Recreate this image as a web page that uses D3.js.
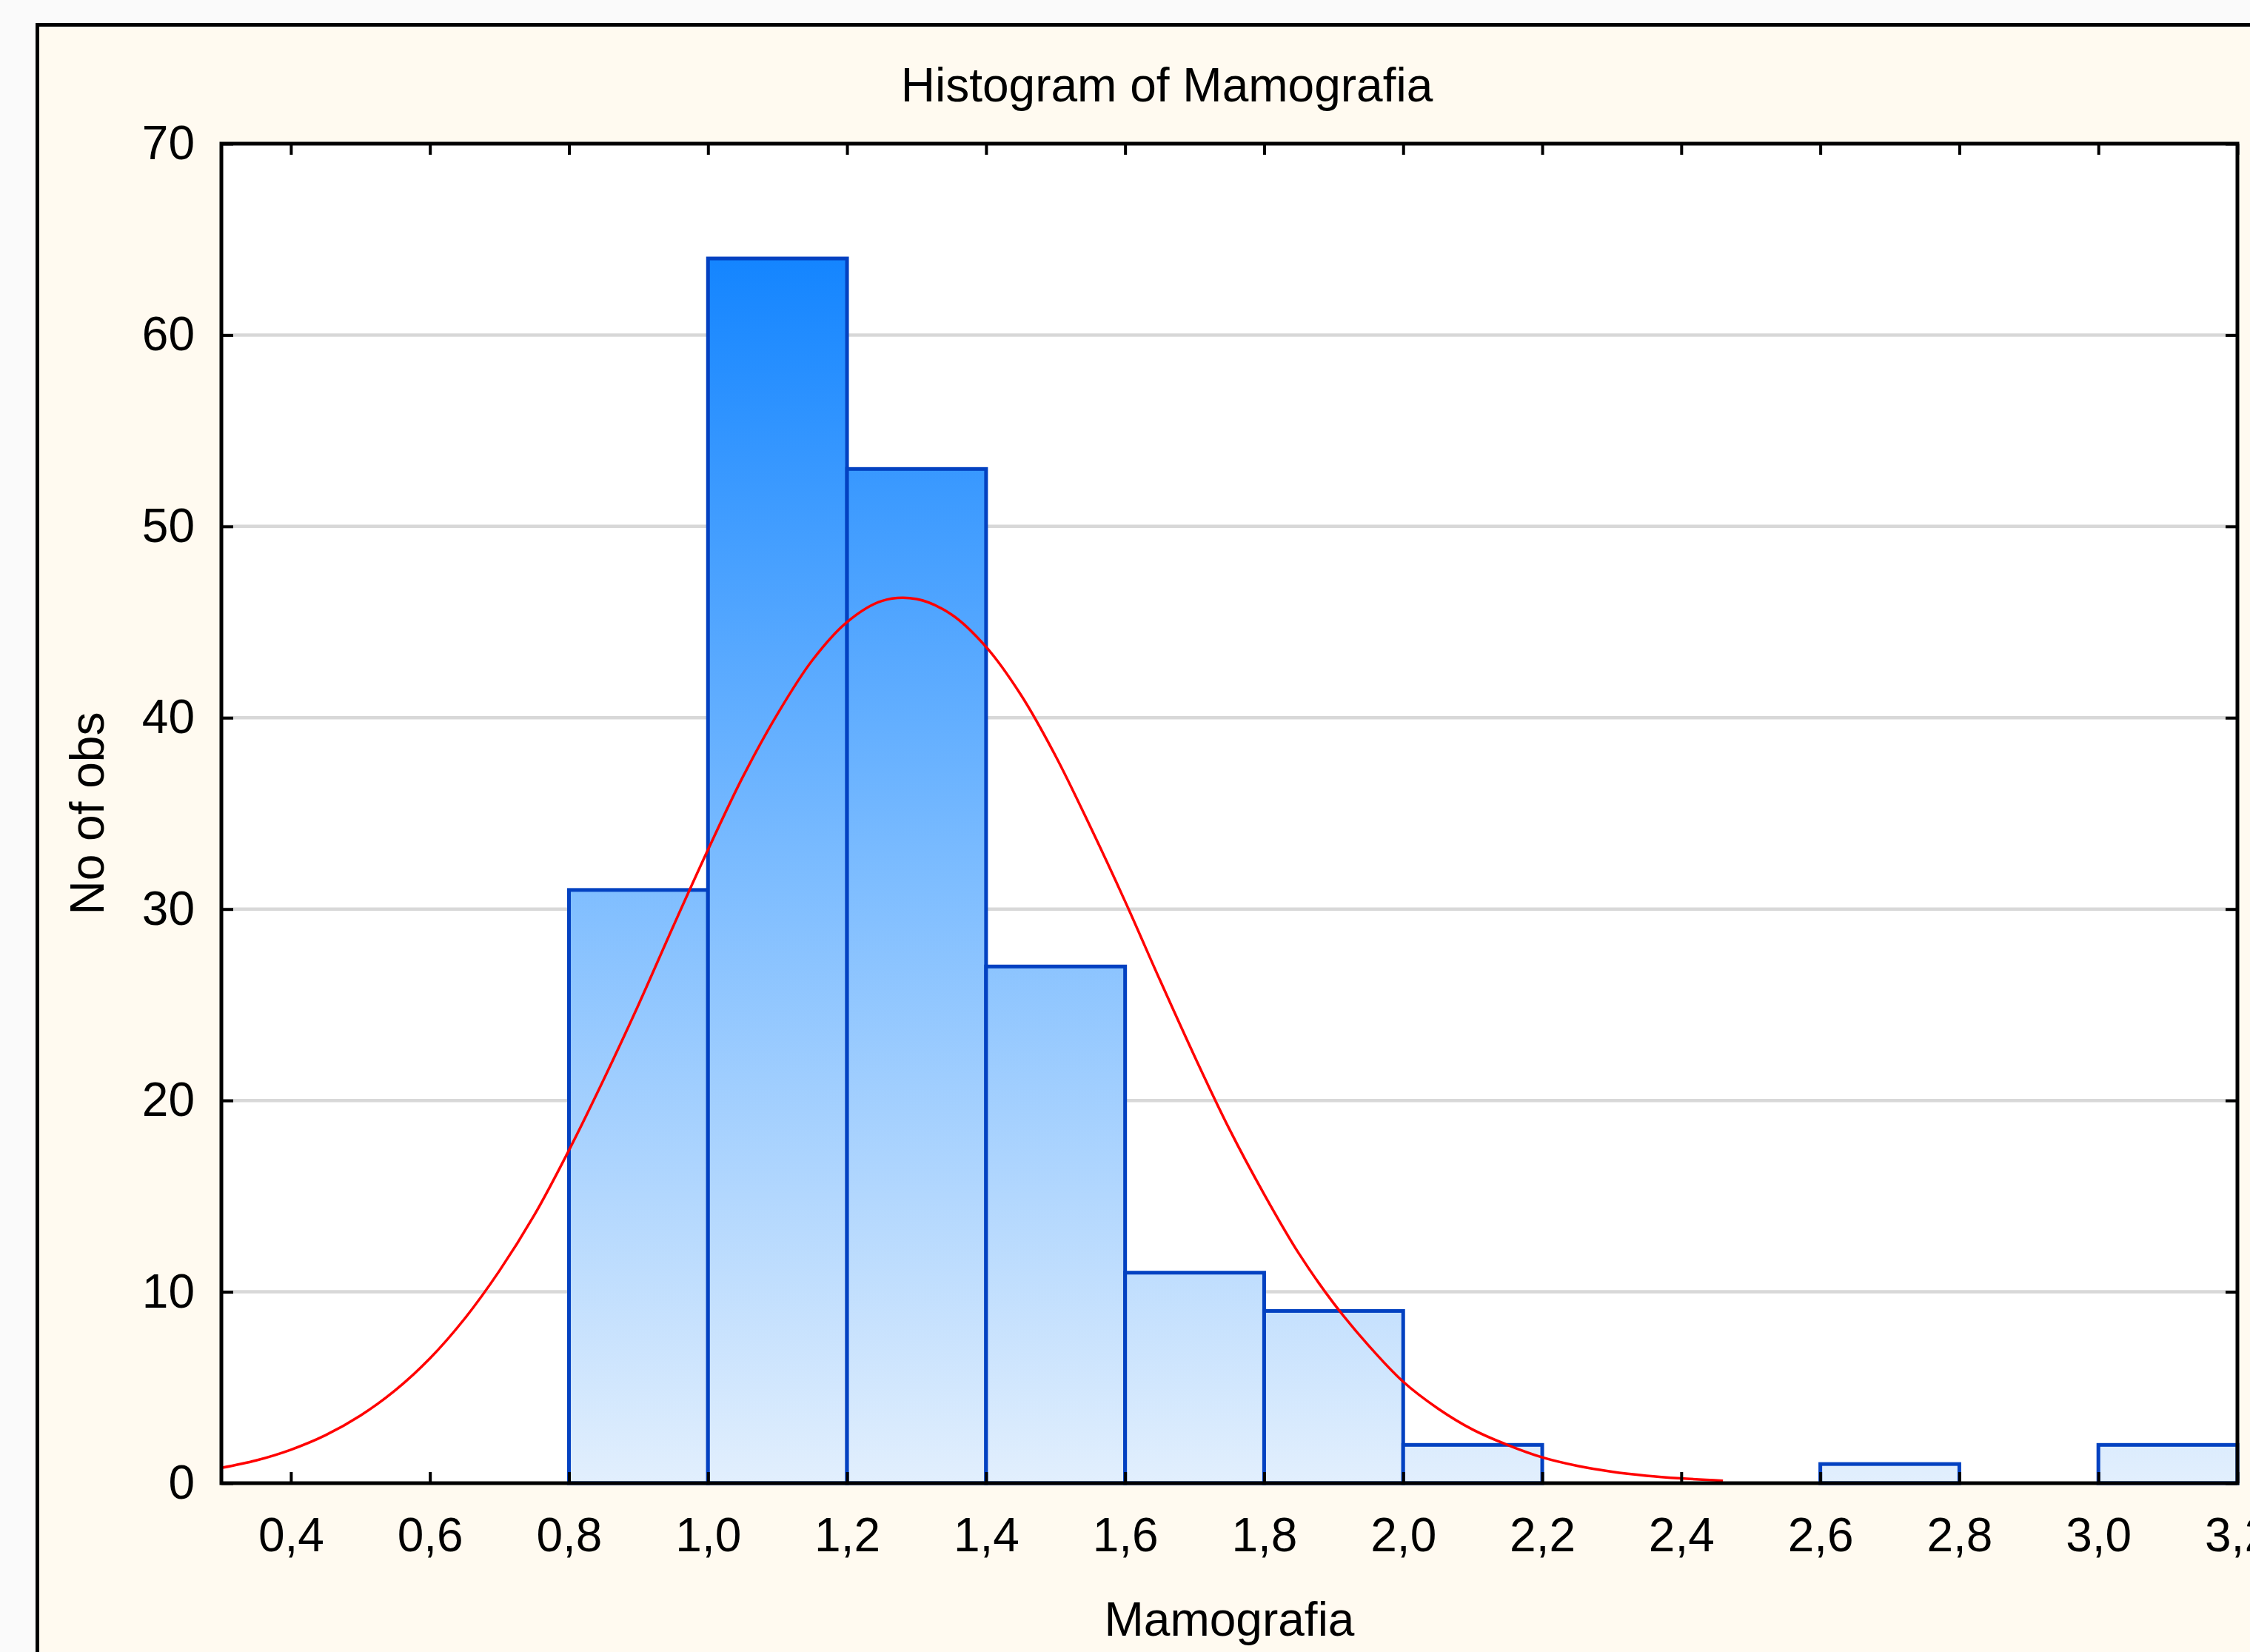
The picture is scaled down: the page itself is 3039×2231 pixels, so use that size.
<!DOCTYPE html>
<html>
<head>
<meta charset="utf-8">
<script src="https://cdn.jsdelivr.net/npm/d3@7"></script>
<style>
  html, body { margin: 0; padding: 0; background: #fafafa; }
  svg { display: block; }
  text { font-family: "Liberation Sans", Arial, sans-serif; fill: #000; }
</style>
</head>
<body>
<div id="chart"></div>
<script>
// histogram bins (lower / upper edge) and counts
const binLower = [0.8, 1.0, 1.2, 1.4, 1.6, 1.8, 2.0, 2.2, 2.4, 2.6, 2.8, 3.0];
const binUpper = [1.0, 1.2, 1.4, 1.6, 1.8, 2.0, 2.2, 2.4, 2.6, 2.8, 3.0, 3.2];
const counts   = [31, 64, 53, 27, 11, 9, 2, 0, 0, 1, 0, 2];

// fitted normal curve
const curveX = [0.30, 0.35, 0.40, 0.45, 0.50, 0.55, 0.60, 0.65, 0.70, 0.75, 0.80, 0.85,
  0.90, 0.95, 1.00, 1.05, 1.10, 1.15, 1.20, 1.25, 1.30, 1.35, 1.40, 1.45, 1.50, 1.55,
  1.60, 1.65, 1.70, 1.75, 1.80, 1.85, 1.90, 1.95, 2.00, 2.05, 2.10, 2.15, 2.20, 2.25,
  2.30, 2.35, 2.40, 2.46];
const curveY = [0.80, 1.19, 1.75, 2.51, 3.53, 4.85, 6.52, 8.60, 11.1, 14.0, 17.4, 21.1,
  25.0, 29.1, 33.1, 36.9, 40.2, 43.0, 45.0, 46.1, 46.2, 45.4, 43.7, 41.2, 38.0, 34.3,
  30.4, 26.3, 22.3, 18.5, 15.1, 12.0, 9.4, 7.2, 5.3, 3.9, 2.8, 2.0, 1.35, 0.91,
  0.60, 0.39, 0.25, 0.13];

// ticks
const xTicks = [0.4, 0.6, 0.8, 1.0, 1.2, 1.4, 1.6, 1.8, 2.0, 2.2, 2.4, 2.6, 2.8, 3.0, 3.2];
const yTicks = [0, 10, 20, 30, 40, 50, 60, 70];
const gridTicks = [10, 20, 30, 40, 50, 60];

const W = 3039, H = 2231;
const plot = {left: 299, top: 194, right: 3022, bottom: 2003};
const fontSize = 64;

const svg = d3.select('#chart').append('svg')
  .attr('width', W)
  .attr('height', H);

// outer cream frame (runs off the right/bottom edge)
svg.append('rect')
  .attr('x', 50.5).attr('y', 33.5)
  .attr('width', 3200).attr('height', 2400)
  .attr('fill', '#fffaf0')
  .attr('stroke', '#000')
  .attr('stroke-width', 5);

const x = d3.scaleLinear().domain([0.3, 3.2]).range([plot.left, plot.right]);
const y = d3.scaleLinear().domain([0, 70]).range([plot.bottom, plot.top]);

// plot background
svg.append('rect')
  .attr('x', plot.left).attr('y', plot.top)
  .attr('width', plot.right - plot.left)
  .attr('height', plot.bottom - plot.top)
  .attr('fill', '#fff');

// bar gradient, shared across all bars
const grad = svg.append('defs').append('linearGradient')
  .attr('id', 'barGrad')
  .attr('gradientUnits', 'userSpaceOnUse')
  .attr('x1', 0).attr('x2', 0)
  .attr('y1', y(d3.max(counts))).attr('y2', y(0));
grad.append('stop').attr('offset', 0).attr('stop-color', '#1485ff');
grad.append('stop').attr('offset', 0.5).attr('stop-color', '#7cbcff');
grad.append('stop').attr('offset', 1).attr('stop-color', '#e2effd');

// gridlines
svg.append('g').selectAll('line')
  .data(gridTicks)
  .enter().append('line')
  .attr('x1', plot.left).attr('x2', plot.right)
  .attr('y1', d => y(d)).attr('y2', d => y(d))
  .attr('stroke', '#d8d8d8')
  .attr('stroke-width', 4.5);

// bars
const bars = binLower.map((lo, i) => ({lo, hi: binUpper[i], n: counts[i]})).filter(d => d.n > 0);
svg.append('g').selectAll('rect')
  .data(bars)
  .enter().append('rect')
  .attr('x', d => x(d.lo))
  .attr('width', d => x(d.hi) - x(d.lo))
  .attr('y', d => y(d.n))
  .attr('height', d => y(0) - y(d.n))
  .attr('fill', 'url(#barGrad)')
  .attr('stroke', '#0341c1')
  .attr('stroke-width', 5);

// normal curve
const curvePts = curveX.map((v, i) => [v, curveY[i]]);
svg.append('path')
  .datum(curvePts)
  .attr('fill', 'none')
  .attr('stroke', '#ff0000')
  .attr('stroke-width', 3.5)
  .attr('d', d3.line()
    .x(d => x(d[0]))
    .y(d => y(d[1]))
    .curve(d3.curveCatmullRom));

// axes
const fmtX = v => d3.format('.1f')(v).replace('.', ',');

const xAxis = svg.append('g')
  .attr('transform', `translate(0,${plot.bottom})`)
  .call(d3.axisBottom(x).tickValues(xTicks).tickFormat(fmtX).tickSize(-15).tickPadding(47));
const xTop = svg.append('g')
  .attr('transform', `translate(0,${plot.top})`)
  .call(d3.axisTop(x).tickValues(xTicks).tickFormat('').tickSize(-15));
const yAxis = svg.append('g')
  .attr('transform', `translate(${plot.left},0)`)
  .call(d3.axisLeft(y).tickValues(yTicks).tickSize(-16).tickPadding(36));
const yRight = svg.append('g')
  .attr('transform', `translate(${plot.right},0)`)
  .call(d3.axisRight(y).tickValues(yTicks).tickFormat('').tickSize(-16));

[xAxis, xTop, yAxis, yRight].forEach(g => {
  g.select('.domain').remove();
  g.selectAll('.tick line').attr('stroke', '#000').attr('stroke-width', 4);
  g.selectAll('text')
    .attr('font-size', fontSize)
    .attr('font-family', '"Liberation Sans", Arial, sans-serif')
    .attr('fill', '#000');
});

// plot frame
svg.append('rect')
  .attr('x', plot.left).attr('y', plot.top)
  .attr('width', plot.right - plot.left)
  .attr('height', plot.bottom - plot.top)
  .attr('fill', 'none')
  .attr('stroke', '#000')
  .attr('stroke-width', 5);

// titles
svg.append('text')
  .attr('x', 1576).attr('y', 137)
  .attr('text-anchor', 'middle')
  .attr('font-size', fontSize)
  .text('Histogram of Mamografia');

svg.append('text')
  .attr('x', (plot.left + plot.right) / 2).attr('y', 2209)
  .attr('text-anchor', 'middle')
  .attr('font-size', fontSize)
  .text('Mamografia');

svg.append('text')
  .attr('transform', `translate(140,${(plot.top + plot.bottom) / 2}) rotate(-90)`)
  .attr('text-anchor', 'middle')
  .attr('font-size', fontSize)
  .text('No of obs');
</script>
</body>
</html>
